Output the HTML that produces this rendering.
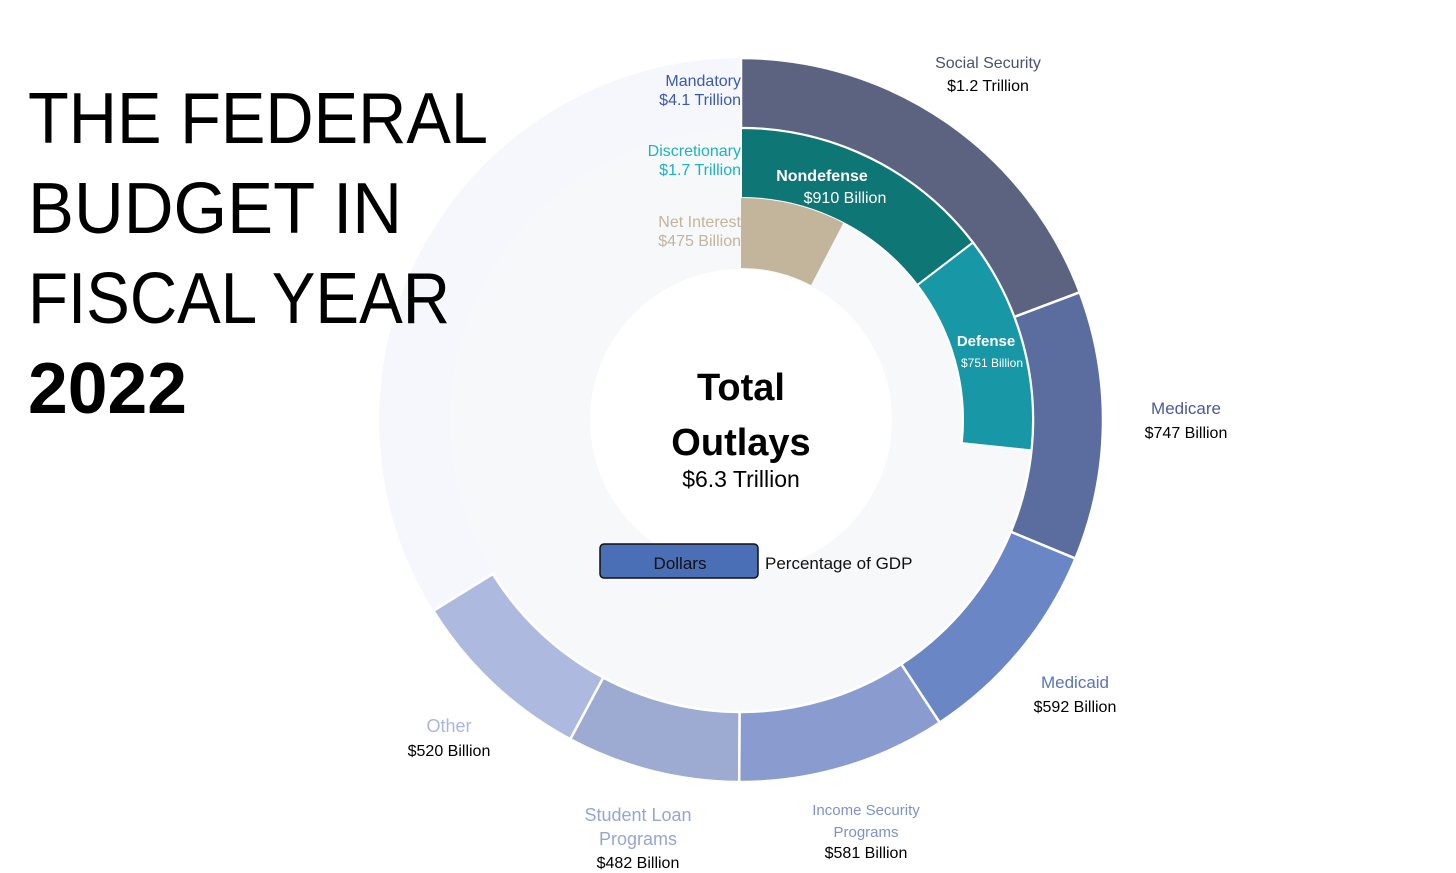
<!DOCTYPE html>
<html><head><meta charset="utf-8"><style>
body{margin:0;width:1456px;height:873px;background:#fff;overflow:hidden;font-family:"Liberation Sans",sans-serif}
svg{position:absolute;left:0;top:0}
</style></head><body>
<svg id="c" width="1456" height="873"></svg>
<script>
const mandCats=["Social Security","Medicare","Medicaid","Income Security Programs","Student Loan Programs","Other"];
const mandVals=[1200,747,592,581,482,520];
const discCats=["Nondefense","Defense"];
const discVals=[910,751];
const interestVal=[475];
const total=6230;
const mandColors=["#5b6381","#5b6d9e","#6a86c4","#8a9ccf","#9daad1","#adb9df"];
const discColors=["#0f7676","#1897a6"];
const cx=741,cy=420;
const svg=document.getElementById('c');
const NS="http://www.w3.org/2000/svg";
function ang(v){return v/total*2*Math.PI;}
function pt(r,a){return [cx+r*Math.sin(a),cy-r*Math.cos(a)];}
function arc(r0,r1,a0,a1){
 const L=(a1-a0)>Math.PI?1:0;
 const p1=pt(r1,a0),p2=pt(r1,a1),p3=pt(r0,a1),p4=pt(r0,a0);
 return `M${p1}A${r1},${r1} 0 ${L} 1 ${p2}L${p3}A${r0},${r0} 0 ${L} 0 ${p4}Z`;
}
function add(tag,attrs,parent){const e=document.createElementNS(NS,tag);for(const k in attrs)e.setAttribute(k,attrs[k]);(parent||svg).appendChild(e);return e;}
let bg=add('circle',{cx:cx,cy:cy,r:362,fill:'#f6f7fd'});


let bg2=add('circle',{cx:cx,cy:cy,r:291,fill:'#f7f8fa'});


let a=0;
mandVals.forEach((v,i)=>{const b=a+ang(v);
 const p=add('path',{d:arc(292,362,a,b),fill:mandColors[i],stroke:'#fff','stroke-width':2.5});
 
 
 a=b;});
a=0;
discVals.forEach((v,i)=>{const b=a+ang(v);
 const p=add('path',{d:arc(222,292,a,b),fill:discColors[i],stroke:'#fff','stroke-width':2});
 
 
 a=b;});
const ni=add('path',{d:arc(152,222,0,ang(interestVal[0])),fill:'#c2b59b'});


const cc=add('circle',{cx:cx,cy:cy,r:151,fill:'#fff'});


const labels=[
 ["Mandatory",741,86,16,"#3a5ab0","end","label-mandatory"],["$4.1 Trillion",741,105,16,"#3a5ab0","end","value-mandatory"],
 ["Discretionary",741,156,16,"#1ab3c3","end","label-discretionary"],["$1.7 Trillion",741,175,16,"#1ab3c3","end","value-discretionary"],
 ["Net Interest",741,227,16,"#c2b59b","end","label-net-interest"],["$475 Billion",741,246,16,"#c2b59b","end","value-net-interest"],
 ["Social Security",988,68,16,"#4a5275","middle","label-social-security"],["$1.2 Trillion",988,91,16,"#000","middle","value-social-security"],
 ["Nondefense",822,181,16,"#fff","middle","label-nondefense"],["$910 Billion",845,203,16,"#fff","middle","value-nondefense"],
 ["Defense",986,346,15,"#fff","middle","label-defense"],["$751 Billion",992,367,12,"#fff","middle","value-defense"],
 ["Medicare",1186,414,17,"#4a5a9a","middle","label-medicare"],["$747 Billion",1186,438,16,"#000","middle","value-medicare"],
 ["Medicaid",1075,688,17,"#5a74b8","middle","label-medicaid"],["$592 Billion",1075,712,16,"#000","middle","value-medicaid"],
 ["Income Security",866,815,15,"#7f92c8","middle","label-income-security"],["Programs",866,837,15,"#7f92c8","middle","label-income-security-2"],["$581 Billion",866,858,16,"#000","middle","value-income-security"],
 ["Student Loan",638,821,18,"#97a6d0","middle","label-student-loan"],["Programs",638,845,18,"#97a6d0","middle","label-student-loan-2"],["$482 Billion",638,868,16,"#000","middle","value-student-loan"],
 ["Other",449,732,18,"#aab6de","middle","label-other"],["$520 Billion",449,756,16,"#000","middle","value-other"],
 ["Total",741,400,38,"#000","middle","center-title-total"],["Outlays",741,455,38,"#000","middle","center-title-outlays"],
 ["$6.3 Trillion",741,487,23,"#000","middle","center-total-value"]];
labels.forEach(l=>{const t=add('text',{x:l[1],y:l[2],'font-size':l[3],fill:l[4],'text-anchor':l[5]});
 if(l[6].startsWith('center-title'))t.setAttribute('font-weight','bold');
 if(l[6].startsWith('label-nondefense')||l[6].startsWith('label-defense'))t.setAttribute('font-weight','bold');
 t.textContent=l[0];
 
 });
const btn=add('rect',{x:600,y:544,width:158,height:34,rx:4,fill:'#4b6fb6',stroke:'#111','stroke-width':1.5});


const bt=add('text',{x:680,y:569,'font-size':17,'text-anchor':'middle',fill:'#111'});
bt.textContent='Dollars';


const pt2=add('text',{x:765,y:569,'font-size':17,fill:'#111'});
pt2.textContent='Percentage of GDP';


const titles=[["THE FEDERAL",143,460,"normal","title-line-1"],["BUDGET IN",233,374,"normal","title-line-2"],["FISCAL YEAR",323,422,"normal","title-line-3"],["2022",413,159,"bold","title-year"]];
titles.forEach(t=>{const e=add('text',{x:28,y:t[1],'font-size':72,fill:'#000','font-weight':t[3],textLength:t[2],lengthAdjust:'spacingAndGlyphs'});
 e.textContent=t[0];
 
 });
</script>
</body></html>
